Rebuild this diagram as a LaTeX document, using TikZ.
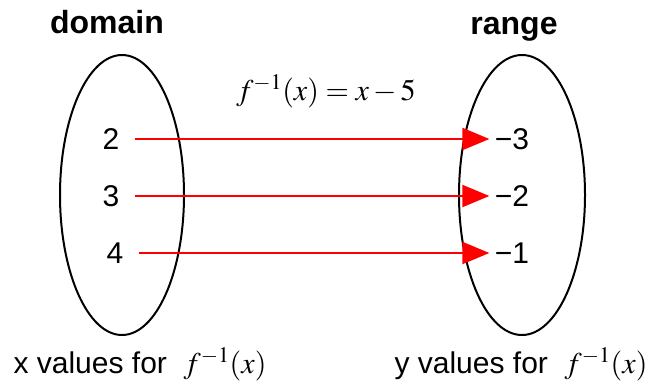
\documentclass[tikz,border=0pt]{standalone}
\usepackage{mathptmx}
\usepackage[no-math]{fontspec}
\setmainfont{Liberation Sans}
\usetikzlibrary{arrows.meta}
\tikzset{
    big/.style={font=\fontsize{30}{36}\selectfont},
    title/.style={anchor=base, font=\fontsize{32}{38}\selectfont\bfseries},
    map/.style={red, line width=2pt, shorten <=12pt, shorten >=2pt,
        -{Triangle[length=27pt,width=22pt]}},
}
\begin{document}
\begin{tikzpicture}[x=1pt,y=-1pt,every node/.style={big}]
    \useasboundingbox (0,0) rectangle (652,381);
    % the two sets
    \draw[line width=2pt] (122,195) ellipse [x radius=62, y radius=140];
    \draw[line width=2pt] (522,195) ellipse [x radius=63, y radius=140];
    \node[title] (dom) at (107,33) {domain};
    \node[title] (ran) at (514,34) {range};
    \node[anchor=base] (rule) at (326,100) {$f^{-1}(x)=x-5$};
    % x values, y values and the arrows
    \foreach \xa/\y/\a/\b [count=\i] in {
        111/139/2/{−3},
        111/196/3/{−2},
        115/253/4/{−1}
    } {
        \node (x\i) at (\xa,\y) {\a};
        \node (y\i) at (512,\y) {\b};
        \draw[map] (x\i) -- (y\i);
    }
    \node[anchor=base] (xlab) at (140,373) {x values for\ \ $f^{-1}(x)$};
    \node[anchor=base] (ylab) at (521,373) {y values for\ \ $f^{-1}(x)$};
\end{tikzpicture}
\end{document}
